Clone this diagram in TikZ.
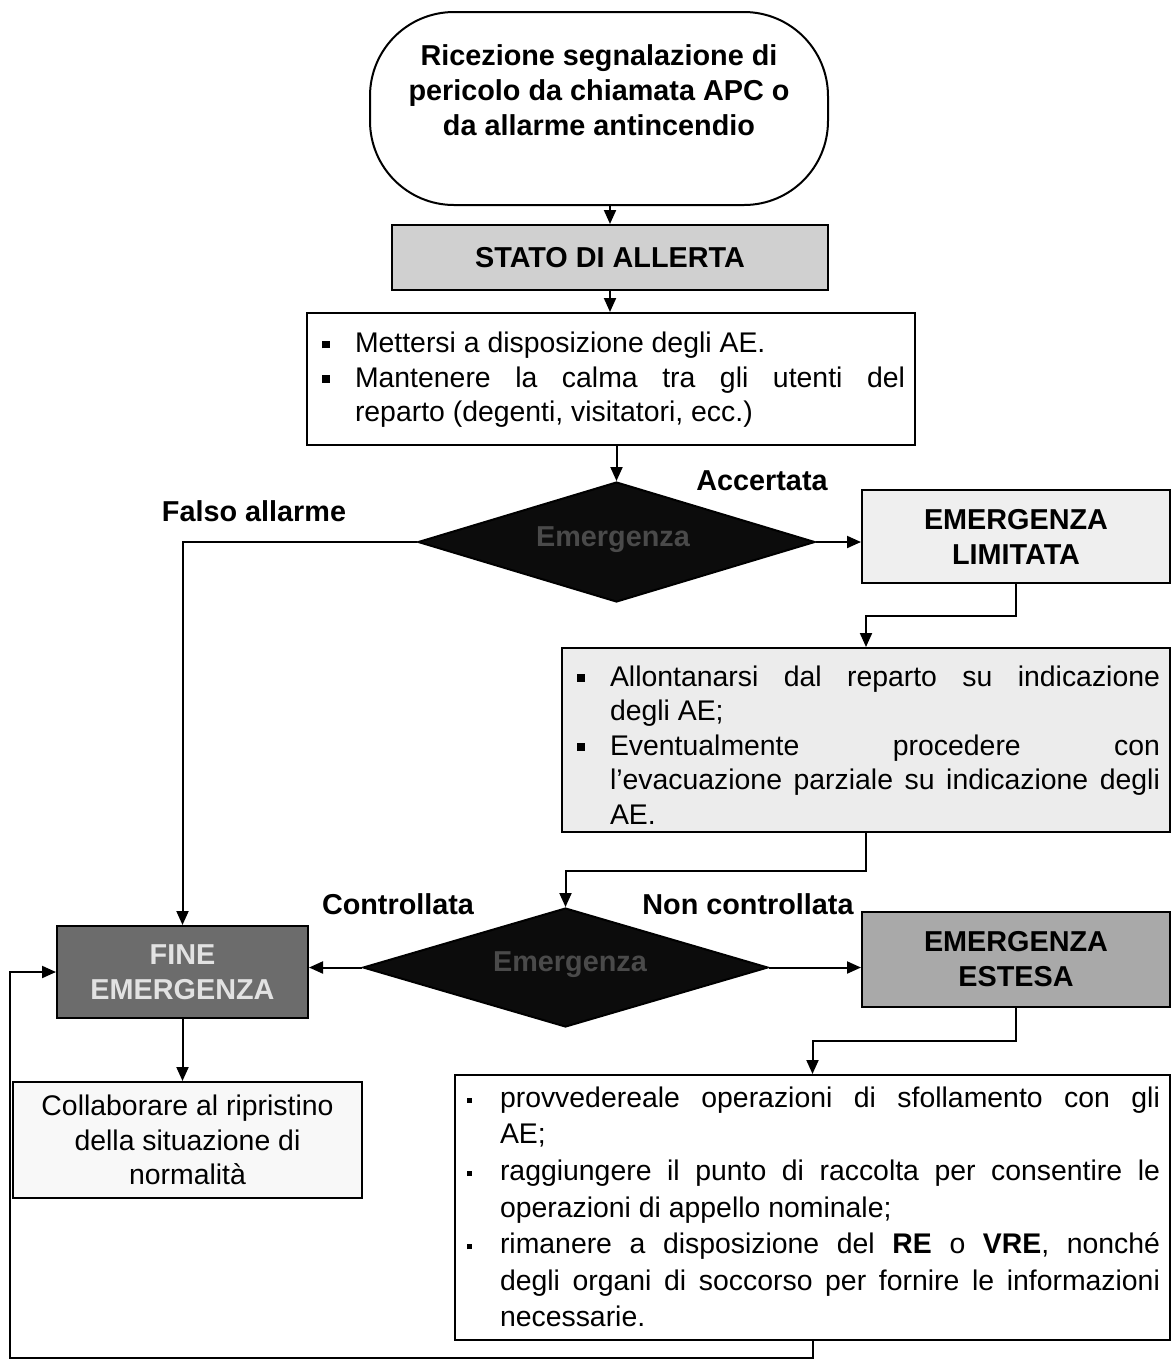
\documentclass[tikz,border=0pt]{standalone}
\usepackage{fontspec}
\setmainfont{Liberation Sans}
\usetikzlibrary{arrows.meta,shapes.geometric,calc}

\definecolor{alertfill}{HTML}{D0D0D0}
\definecolor{lightfill}{HTML}{EFEFEF}
\definecolor{panelfill}{HTML}{ECECEC}
\definecolor{finefill}{HTML}{6C6C6C}
\definecolor{finetext}{HTML}{E2E2E2}
\definecolor{estfill}{HTML}{A9A9A9}
\definecolor{collfill}{HTML}{F8F8F8}
\definecolor{decfill}{HTML}{0C0C0C}
\definecolor{dectext}{HTML}{4A4A4A}

% body and heading fonts
\newcommand\bodyfont{\fontsize{14.2}{17.3}\selectfont}
\newcommand\headfont{\bfseries\fontsize{14.4}{17.5}\selectfont}
% bulleted paragraph: #1 hanging indent, #2 bullet offset, #3 bullet size, #4 text
\newcommand\bitem[4]{\par\noindent\hangindent=#1\hangafter=1%
  \makebox[#1][l]{\hspace{#2}\raisebox{2.2pt}{\rule{#3}{#3}}}#4\par}

\begin{document}
\begin{tikzpicture}[x=0.5pt,y=-0.5pt,
  box/.style={draw=black, line width=1pt, inner ysep=0pt, inner xsep=5pt},
  plainbox/.style={box, align=center, font=\headfont},
  frame/.style={draw=black, line width=1pt, inner sep=0pt},
  listtext/.style={inner sep=0pt, align=justify, font=\bodyfont},
  decision/.style={diamond, draw=black, line width=1pt, fill=decfill, inner sep=0pt},
  dectxt/.style={font=\headfont, text=dectext, inner sep=0pt},
  lab/.style={font=\headfont, inner sep=0pt},
  arr/.style={draw=black, line width=1pt, -{Triangle[length=7pt,width=6pt]}}]

\fill[white] (0,0) rectangle (1171,1362);
\useasboundingbox (0,0) rectangle (1171,1362);

% start terminal
\node[draw=black, line width=1pt, rounded corners=42pt, minimum width=229pt,
      minimum height=96.5pt, inner sep=0pt] (start) at (599,108.5) {};
\node[font=\headfont, align=center, inner sep=0pt] (starttxt) at (599,90)
  {Ricezione segnalazione di\\pericolo da chiamata APC o\\da allarme antincendio};

% alert state
\node[plainbox, fill=alertfill, minimum width=218pt, minimum height=32.5pt]
  (alert) at (610,257.5) {STATO DI ALLERTA};

% first instructions
\node[frame, fill=white, minimum width=304pt, minimum height=66pt] (b1) at (611,379) {};
\node[listtext, text width=294pt] (b1txt) at (611,373) {%
  \bitem{19pt}{2.5pt}{3.8pt}{Mettersi a disposizione degli AE.}%
  \bitem{19pt}{2.5pt}{3.8pt}{Mantenere la calma tra gli utenti del\linebreak reparto (degenti, visitatori, ecc.)}};

% first decision
\node[decision, minimum width=198.5pt, minimum height=60pt] (d1) at (616.5,542) {};
\node[dectxt] (d1txt) at (613,540) {Emergenza};

% limited emergency
\node[plainbox, fill=lightfill, minimum width=154pt, minimum height=46.5pt]
  (lim) at (1016,536.5) {EMERGENZA\\LIMITATA};

\node[frame, fill=panelfill, minimum width=304pt, minimum height=92pt] (b2) at (866,740) {};
\node[listtext, text width=294pt] (b2txt) at (866,738) {%
  \bitem{19pt}{2.5pt}{3.8pt}{Allontanarsi dal reparto su indicazione\linebreak degli AE;}%
  \bitem{19pt}{2.5pt}{3.8pt}{Eventualmente procedere con\linebreak l’evacuazione parziale su indicazione degli\linebreak AE.}};

% second decision
\node[decision, minimum width=202.5pt, minimum height=59.5pt] (d2) at (565.5,967.5) {};
\node[dectxt] (d2txt) at (570,965) {Emergenza};

% end of emergency
\node[plainbox, fill=finefill, text=finetext, minimum width=125.5pt, minimum height=46pt]
  (fine) at (182.5,972) {FINE\\EMERGENZA};

% extended emergency
\node[plainbox, fill=estfill, minimum width=154pt, minimum height=47.5pt]
  (est) at (1016,959.5) {EMERGENZA\\ESTESA};

\node[box, fill=collfill, align=center, font=\bodyfont, minimum width=174.5pt,
      minimum height=58pt] (coll) at (187.5,1140)
  {Collaborare al ripristino\\della situazione di\\normalità};

\node[frame, fill=white, minimum width=357.5pt, minimum height=132.5pt] (b3) at (812.5,1207.5) {};
\node[listtext, text width=347.5pt, font=\fontsize{14.2}{18.3}\selectfont]
  (b3txt) at (812.5,1199) {%
  \bitem{17.5pt}{1pt}{2.6pt}{provvedereale operazioni di sfollamento con gli\linebreak AE;}%
  \bitem{17.5pt}{1pt}{2.6pt}{raggiungere il punto di raccolta per consentire le\linebreak operazioni di appello nominale;}%
  \bitem{17.5pt}{1pt}{2.6pt}{rimanere a disposizione del \textbf{RE} o \textbf{VRE}, nonché\linebreak degli organi di soccorso per fornire le informazioni\linebreak necessarie.}};

% branch labels
\node[lab] (lfalso) at (254,511) {Falso allarme};
\node[lab] (lacc) at (762,481) {Accertata};
\node[lab] (lctrl) at (398,904) {Controllata};
\node[lab] (lnon) at (748,904) {Non controllata};

% connectors
\draw[arr] (alert.north |- start.south) -- (alert.north);
\draw[arr] (alert.south) -- (alert.south |- b1.north);
\draw[arr] (d1.north |- b1.south) -- (d1.north);
\draw[arr] (d1.east) -- (d1.east -| lim.west);
\draw[arr] (lim.south) -- ++(0,32) -| (b2.north);
\draw[arr] (b2.south) -- ++(0,38) -| (d2.north);
\draw[arr] (d1.west) -| (fine.north);
\draw[arr] (d2.west) -- (d2.west -| fine.east);
\draw[arr] (d2.east) -- (d2.east -| est.west);
\draw[arr] (fine.south) -- (fine.south |- coll.north);
\draw[arr] (est.south) -- ++(0,33) -| (b3.north);
\coordinate (xl) at (10,0);
\coordinate (ret) at (fine.west -| xl);
\draw[arr] (b3.south) -- ++(0,17) -| (ret) -- (fine.west);

\end{tikzpicture}
\end{document}
